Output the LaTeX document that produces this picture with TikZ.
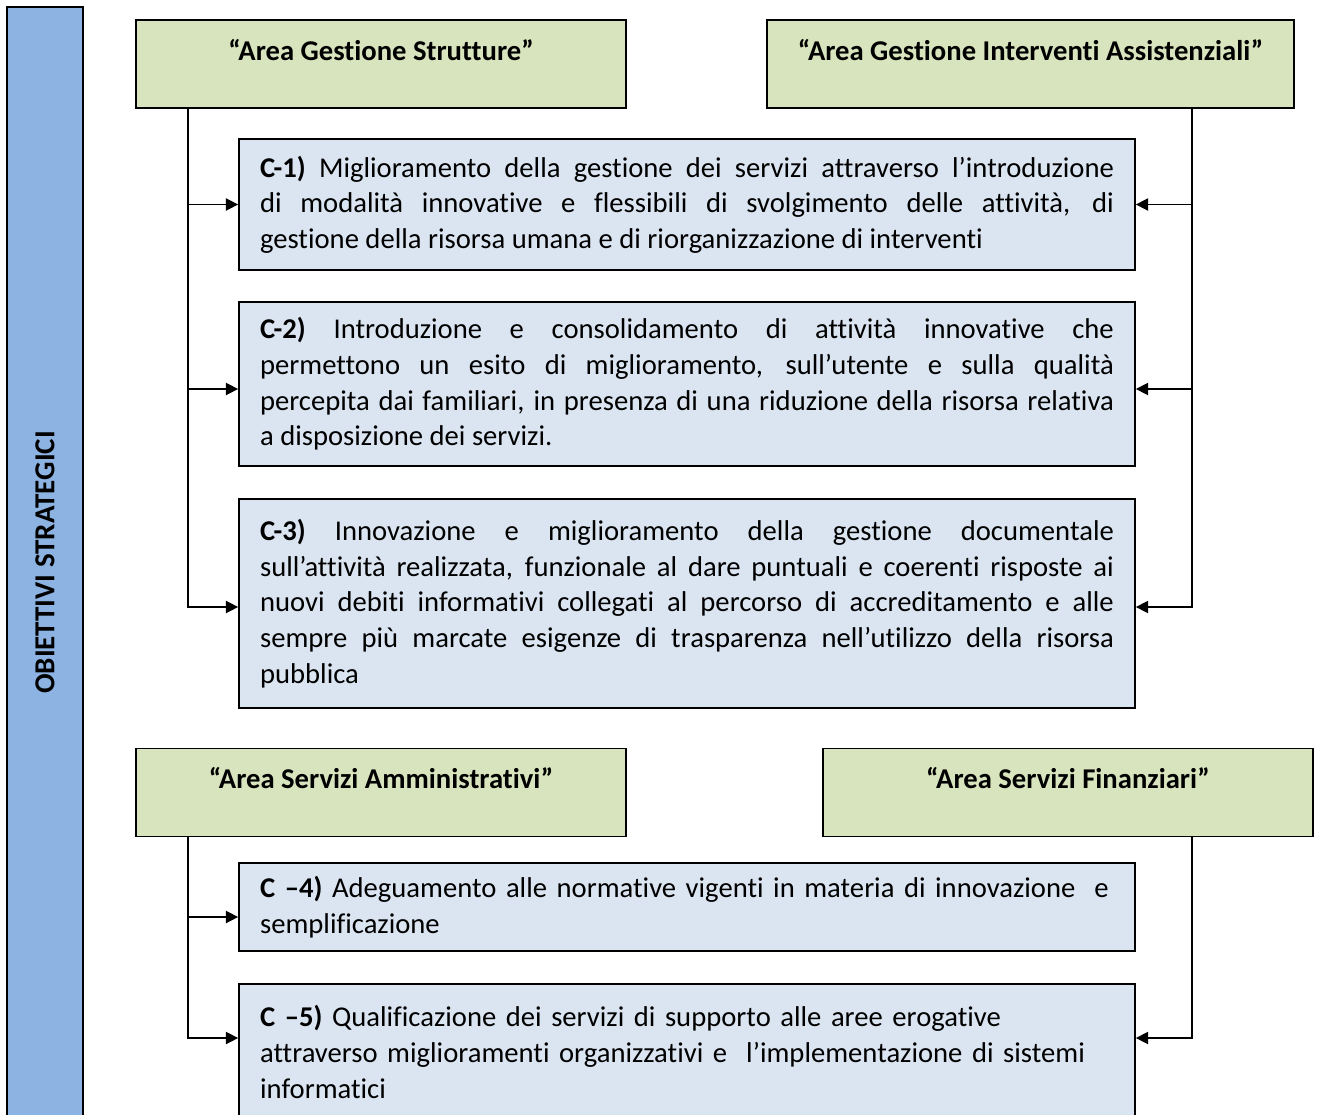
\documentclass[tikz,border=0pt]{standalone}
\usepackage{fontspec}
\setmainfont{Carlito}[Ligatures=NoCommon]
\usetikzlibrary{arrows.meta}
\definecolor{barblue}{HTML}{8DB3E2}
\definecolor{areagreen}{HTML}{D7E4BD}
\definecolor{objblue}{HTML}{DBE5F1}

\begin{document}
\begin{tikzpicture}[x=0.02cm, y=-0.02cm, >={Triangle[length=7pt,width=7pt]},
  areabox/.style={draw, line width=1.1pt, fill=areagreen, minimum height=1.76cm,
    align=center, font=\fontsize{16.3pt}{20.3pt}\selectfont\bfseries},
  objbox/.style={draw, line width=1.1pt, fill=objblue, text width=17.08cm,
    inner xsep=0.42cm, align=justify, font=\fontsize{16.3pt}{20.3pt}\selectfont},
  link/.style={->, line width=0.85pt}]
  \useasboundingbox (0,0) rectangle (1318,1115);

  % barra laterale
  \node[draw, line width=1.1pt, fill=barblue, rotate=90, minimum width=22.22cm,
    minimum height=1.52cm, font=\fontsize{16.5pt}{20pt}\selectfont\bfseries]
    (obiettivi) at (45,562.5) {OBIETTIVI STRATEGICI};

  % aree
  \node[areabox, minimum width=9.8cm] (strutture) at (381,64)
    {“Area Gestione Strutture”\\[-10pt]\strut};
  \node[areabox, minimum width=10.54cm] (assist) at (1030.5,64)
    {“Area Gestione Interventi Assistenziali”\\[-10pt]\strut};
  \node[areabox, minimum width=9.8cm] (ammin) at (381,792.5)
    {“Area Servizi Amministrativi”\\[-10pt]\strut};
  \node[areabox, minimum width=9.8cm] (finanz) at (1068,792.5)
    {“Area Servizi Finanziari”\\[-10pt]\strut};

  % obiettivi
  \node[objbox, minimum height=2.62cm] (c1) at (687,204.5)
    {\textbf{C-1)} Miglioramento della gestione dei servizi attraverso l’introduzione\linebreak
     di modalità innovative e flessibili di svolgimento delle attività, di\linebreak
     gestione della risorsa umana e di riorganizzazione di interventi};
  \node[objbox, minimum height=3.28cm] (c2) at (687,384)
    {\textbf{C-2)} Introduzione e consolidamento di attività innovative che\linebreak
     permettono un esito di miglioramento, sull’utente e sulla qualità\linebreak
     percepita dai familiari, in presenza di una riduzione della risorsa relativa\linebreak
     a disposizione dei servizi.};
  \node[objbox, minimum height=4.18cm] (c3) at (687,603.5)
    {\textbf{C-3)} Innovazione e miglioramento della gestione documentale\linebreak
     sull’attività realizzata, funzionale al dare puntuali e coerenti risposte ai\linebreak
     nuovi debiti informativi collegati al percorso di accreditamento e alle\linebreak
     sempre più marcate esigenze di trasparenza nell’utilizzo della risorsa\linebreak
     pubblica};
  \node[objbox, align=left, minimum height=1.76cm] (c4) at (687,907)
    {\textbf{C –4)} Adeguamento alle normative vigenti in materia di innovazione~ e\\
     semplificazione};
  \node[objbox, align=left, minimum height=2.72cm] (c5) at (687,1052)
    {\textbf{C –5)} Qualificazione dei servizi di supporto alle aree erogative\\
     attraverso miglioramenti organizzativi e~ l’implementazione di sistemi\\
     informatici};

  % collegamenti
  \coordinate (sx) at (188,0);
  \coordinate (dx) at (1192,0);
  \draw[link] (strutture.south -| sx) |- (c1.west);
  \draw[link] (strutture.south -| sx) |- ([yshift=-0.1cm]c2.west);
  \draw[link] (strutture.south -| sx) |- ([yshift=-0.07cm]c3.west);
  \draw[link] (assist.south -| dx) |- (c1.east);
  \draw[link] (assist.south -| dx) |- ([yshift=-0.1cm]c2.east);
  \draw[link] (assist.south -| dx) |- ([yshift=-0.07cm]c3.east);
  \draw[link] (ammin.south -| sx) |- ([yshift=-0.2cm]c4.west);
  \draw[link] (ammin.south -| sx) |- ([yshift=0.28cm]c5.west);
  \draw[link] (finanz.south -| dx) |- ([yshift=0.28cm]c5.east);
\end{tikzpicture}
\end{document}
